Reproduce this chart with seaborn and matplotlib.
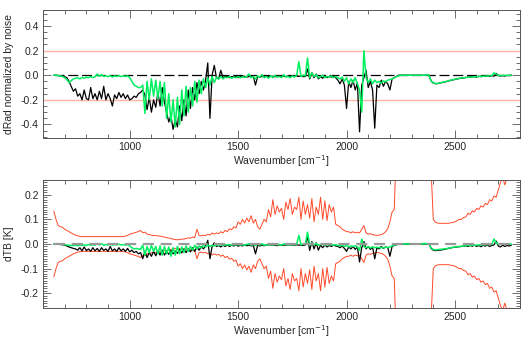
import numpy as np
import matplotlib
matplotlib.use("Agg")
import matplotlib.pyplot as plt
import seaborn as sns
from matplotlib.ticker import MultipleLocator, FormatStrFormatter

# wavenumber sampling grid [cm-1]
wn = np.arange(650, 2761, 10)

# top panel: dRad normalized by noise
top_black = [
    0, 0, -0.003, -0.005, -0.008, -0.012, -0.02, -0.05, -0.09, -0.13,
    -0.11, -0.17, -0.15, -0.2, -0.12, -0.19, -0.2, -0.1, -0.19, -0.15,
    -0.2, -0.13, -0.19, -0.09, -0.2, -0.15, -0.19, -0.25, -0.16, -0.19,
    -0.14, -0.18, -0.15, -0.19, -0.16, -0.2, -0.19, -0.17, -0.18, -0.15,
    -0.14, -0.12, -0.16, -0.28, -0.18, -0.3, -0.2, -0.26, -0.14, -0.25,
    -0.1, -0.22, -0.3, -0.38, -0.33, -0.44, -0.36, -0.42, -0.25, -0.37,
    -0.2, -0.33, -0.12, -0.27, -0.1, -0.2, -0.06, -0.15, -0.05, -0.12,
    -0.04, 0.1, -0.35, 0.0, 0.08, -0.02, -0.03, 0.04, -0.02, -0.01,
    -0.01, -0.02, -0.01, -0.015, -0.01, -0.02, -0.01, -0.012, -0.008, -0.015,
    -0.01, -0.012, -0.008, -0.08, -0.01, -0.015, -0.01, -0.012, -0.008, -0.01,
    -0.01, -0.008, -0.012, -0.01, -0.005, -0.01, -0.008, -0.012, -0.005, -0.01,
    -0.008, -0.01, -0.005, -0.01, -0.005, -0.012, -0.01, 0.05, -0.03, 0.02,
    -0.02, 0.01, -0.03, -0.01, -0.025, 0.0, -0.02, -0.01, -0.015, -0.01,
    -0.02, -0.04, -0.07, -0.03, -0.08, -0.27, -0.05, -0.1, -0.04, -0.12,
    -0.06, -0.46, -0.08, -0.02, 0.04, -0.1, -0.05, -0.12, -0.43, -0.08,
    -0.1, -0.04, -0.09, -0.05, -0.07, -0.12, -0.03, -0.02, -0.01, 0.0,
    0, 0, 0, 0, 0, 0, 0, 0, 0, 0,
    0, 0, 0, 0, -0.047, -0.064, -0.069, -0.068, -0.064, -0.06,
    -0.056, -0.052, -0.047, -0.042, -0.038, -0.034, -0.03, -0.027, -0.024, -0.022,
    -0.018, -0.016, -0.014, -0.013, -0.012, -0.015, -0.008, -0.012, -0.006, -0.01,
    -0.004, -0.01, -0.003, -0.008, 0.015, -0.002, -0.006, -0.003, -0.007, -0.002,
    -0.003, 0,
]
top_green = [
    0, 0, -0.002, -0.005, -0.01, -0.02, -0.035, -0.06, -0.045, -0.03,
    -0.025, -0.02, -0.03, -0.018, -0.025, -0.015, -0.02, -0.01, -0.02, -0.012,
    0.01, -0.01, 0.005, -0.01, -0.005, -0.012, -0.003, -0.015, -0.005, -0.01,
    -0.003, -0.012, -0.004, -0.01, -0.005, -0.02, -0.05, -0.08, -0.09, -0.1,
    -0.1, -0.08, -0.31, -0.05, -0.2, -0.03, -0.17, -0.04, -0.19, -0.05,
    -0.25, -0.06, -0.35, -0.15, -0.38, -0.2, -0.42, -0.18, -0.4, -0.12,
    -0.33, -0.09, -0.3, -0.1, -0.25, -0.05, -0.22, -0.04, -0.15, -0.03,
    -0.1, -0.02, -0.08, -0.01, -0.06, -0.015, -0.03, -0.01, -0.03, -0.015,
    -0.02, -0.01, -0.025, -0.015, -0.02, -0.01, -0.02, -0.012, -0.018, -0.01,
    0.01, -0.02, -0.01, -0.03, -0.005, -0.015, 0.005, -0.02, -0.01, -0.025,
    -0.005, -0.02, 0.0, -0.015, -0.01, -0.02, 0.005, -0.015, -0.01, -0.02,
    -0.005, -0.015, 0.0, 0.11, -0.01, 0.0, -0.005, 0.14, -0.02, 0.02,
    -0.01, 0.005, -0.02, -0.01, 0.0, -0.02, -0.01, -0.015, -0.005, -0.02,
    -0.01, -0.02, -0.03, -0.015, -0.05, -0.02, -0.07, -0.03, -0.06, -0.02,
    -0.07, -0.12, -0.3, 0.2, -0.02, -0.06, -0.03, -0.07, -0.04, -0.06,
    -0.05, -0.065, -0.045, -0.055, -0.04, -0.035, -0.03, -0.02, -0.012, -0.005,
    0, 0, 0, 0, 0, 0, 0, 0, 0, 0,
    0, 0, 0.002, 0, -0.045, -0.062, -0.067, -0.066, -0.062, -0.058,
    -0.054, -0.05, -0.045, -0.04, -0.036, -0.032, -0.028, -0.025, -0.022, -0.02,
    -0.019, -0.017, -0.015, -0.014, -0.012, -0.011, -0.01, -0.009, -0.008, -0.007,
    -0.006, -0.005, -0.003, 0.02, 0.008, -0.002, -0.002, -0.001, -0.002, -0.001,
    0, 0,
]

# bottom panel: dTB [K]
bot_black = [
    0, 0, -0.001, -0.002, -0.003, -0.005, -0.008, -0.012, -0.015, -0.018,
    -0.02, -0.025, -0.015, -0.028, -0.012, -0.027, -0.02, -0.03, -0.015, -0.028,
    -0.018, -0.03, -0.015, -0.026, -0.02, -0.03, -0.01, -0.028, -0.02, -0.03,
    -0.015, -0.028, -0.02, -0.03, -0.018, -0.032, -0.025, -0.035, -0.03, -0.04,
    -0.035, -0.06, -0.03, -0.055, -0.035, -0.05, -0.03, -0.048, -0.028, -0.045,
    -0.025, -0.045, -0.03, -0.042, -0.025, -0.04, -0.028, -0.038, -0.022, -0.036,
    -0.02, -0.035, -0.02, -0.032, -0.015, -0.03, -0.012, -0.025, -0.01, -0.02,
    -0.008, 0.015, -0.06, -0.01, 0.005, -0.01, -0.006, -0.012, -0.005, -0.01,
    -0.004, -0.01, -0.005, -0.008, -0.004, -0.009, -0.005, -0.008, -0.004, -0.007,
    -0.004, -0.008, -0.005, -0.04, -0.005, -0.008, -0.004, -0.007, -0.003, -0.006,
    -0.003, -0.006, -0.004, -0.007, -0.003, -0.006, -0.004, -0.006, -0.003, -0.005,
    -0.004, -0.006, -0.003, -0.005, -0.004, -0.006, -0.004, 0.03, -0.026, 0.01,
    -0.02, 0.005, -0.025, -0.005, -0.015, -0.004, -0.012, -0.006, -0.01, -0.005,
    -0.008, -0.01, -0.015, -0.008, -0.018, -0.03, -0.012, -0.02, -0.01, -0.022,
    -0.012, -0.073, -0.015, 0.01, -0.02, -0.01, -0.022, -0.012, -0.06, -0.015,
    -0.02, -0.01, -0.018, -0.012, -0.015, -0.05, -0.01, -0.006, -0.003, 0,
    0, 0, 0, 0, 0, 0, 0, 0, 0, 0,
    0, 0, 0, 0, -0.018, -0.025, -0.027, -0.026, -0.025, -0.024,
    -0.022, -0.02, -0.018, -0.016, -0.014, -0.013, -0.012, -0.011, -0.01, -0.009,
    -0.008, -0.01, -0.006, -0.009, -0.005, -0.01, -0.006, -0.011, -0.005, -0.009,
    -0.004, -0.01, -0.006, -0.004, 0.012, -0.008, -0.012, -0.005, -0.01, -0.006,
    -0.008, -0.005,
]
bot_green = [
    0, 0, -0.001, -0.001, -0.002, -0.003, -0.004, -0.005, -0.006, -0.006,
    -0.005, -0.007, -0.004, -0.006, -0.003, -0.006, -0.002, -0.005, -0.003, -0.005,
    0.002, -0.004, 0.001, -0.005, -0.002, -0.004, -0.001, -0.005, -0.002, -0.004,
    -0.001, -0.004, -0.002, -0.005, -0.002, -0.008, -0.015, -0.02, -0.018, -0.02,
    -0.022, -0.005, -0.045, -0.01, -0.035, -0.005, -0.03, -0.01, -0.04, -0.008,
    -0.045, -0.01, -0.04, -0.012, -0.05, -0.015, -0.045, -0.01, -0.04, -0.012,
    -0.035, -0.008, -0.03, -0.01, -0.025, -0.005, -0.02, -0.008, -0.015, -0.005,
    -0.012, -0.004, -0.01, -0.005, -0.008, -0.003, -0.006, -0.002, -0.005, -0.003,
    -0.004, -0.002, -0.005, -0.003, -0.004, -0.002, -0.004, -0.003, -0.005, -0.002,
    0.002, -0.005, -0.002, -0.006, -0.001, -0.004, 0.001, -0.005, -0.002, -0.006,
    -0.001, -0.005, 0.0, -0.004, -0.002, -0.005, 0.001, -0.004, -0.002, -0.005,
    -0.001, -0.004, 0.0, 0.035, -0.003, 0.0, -0.002, 0.048, -0.005, 0.005,
    -0.003, 0.002, -0.005, -0.002, 0.0, -0.005, -0.002, -0.004, -0.001, -0.005,
    -0.003, -0.006, -0.008, -0.005, -0.01, -0.006, -0.012, -0.008, -0.01, -0.007,
    -0.012, -0.025, 0.02, -0.01, -0.015, -0.01, -0.016, -0.012, -0.015, -0.013,
    -0.015, -0.014, -0.016, -0.013, -0.014, -0.012, -0.008, -0.004, -0.002, 0,
    0, 0.001, 0, 0.001, 0, 0.001, 0, 0.001, 0, 0,
    0.001, 0.002, 0.001, 0.001, -0.016, -0.022, -0.024, -0.023, -0.022, -0.021,
    -0.02, -0.019, -0.017, -0.015, -0.014, -0.012, -0.011, -0.01, -0.009, -0.008,
    -0.007, -0.006, -0.006, -0.005, -0.005, -0.004, -0.004, -0.003, -0.003, -0.003,
    -0.002, -0.002, -0.001, 0.02, 0.005, -0.001, -0.001, -0.001, 0, 0,
    0, 0,
]
# instrument noise envelope (plotted as +/-)
noise_tb = [
    0.133, 0.1, 0.075, 0.07, 0.068, 0.06, 0.055, 0.05, 0.045, 0.04,
    0.036, 0.033, 0.031, 0.03, 0.03, 0.03, 0.03, 0.03, 0.03, 0.03,
    0.03, 0.03, 0.03, 0.03, 0.03, 0.03, 0.03, 0.03, 0.03, 0.03,
    0.03, 0.03, 0.03, 0.032, 0.035, 0.04, 0.042, 0.045, 0.048, 0.05,
    0.055, 0.046, 0.048, 0.04, 0.038, 0.036, 0.035, 0.034, 0.033, 0.032,
    0.03, 0.028, 0.026, 0.024, 0.022, 0.02, 0.018, 0.017, 0.018, 0.02,
    0.02, 0.022, 0.025, 0.024, 0.028, 0.026, 0.06, 0.035, 0.033, 0.036,
    0.034, 0.04, 0.036, 0.045, 0.04, 0.045, 0.042, 0.05, 0.045, 0.055,
    0.05, 0.062, 0.058, 0.07, 0.065, 0.09, 0.08, 0.1, 0.085, 0.105,
    0.09, 0.115, 0.085, 0.1, 0.07, 0.06, 0.08, 0.1, 0.09, 0.14,
    0.11, 0.18, 0.12, 0.155, 0.13, 0.145, 0.1, 0.17, 0.14, 0.185,
    0.12, 0.15, 0.14, 0.19, 0.1, 0.175, 0.12, 0.16, 0.105, 0.185,
    0.09, 0.15, 0.12, 0.19, 0.1, 0.175, 0.095, 0.16, 0.13, 0.15,
    0.08, 0.075, 0.07, 0.06, 0.055, 0.05, 0.05, 0.045, 0.05, 0.045,
    0.048, 0.045, 0.06, 0.075, 0.045, 0.04, 0.042, 0.038, 0.036, 0.035,
    0.036, 0.038, 0.042, 0.05, 0.062, 0.09, 0.13, 0.14, 0.4, 3.0,
    3.0, 3.0, 3.0, 3.0, 3.0, 3.0, 3.0, 3.0, 3.0, 3.0,
    3.0, 3.0, 3.0, 3.0, 0.3, 0.1, 0.088, 0.085, 0.084, 0.084,
    0.084, 0.084, 0.084, 0.086, 0.088, 0.09, 0.095, 0.1, 0.1, 0.108,
    0.11, 0.125, 0.12, 0.135, 0.13, 0.145, 0.14, 0.155, 0.15, 0.165,
    0.16, 0.18, 0.175, 0.195, 0.19, 0.22, 0.25, 0.27, 0.24, 0.27,
    0.26, 0.27,
]

for arr in (top_black, top_green, bot_black, bot_green, noise_tb):
    assert len(arr) == len(wn), len(arr)

top_black = np.array(top_black)
top_green = np.array(top_green)
bot_black = np.array(bot_black)
bot_green = np.array(bot_green)
noise_tb = np.array(noise_tb)

sns.set_style("ticks")
plt.rcParams["font.family"] = ["Liberation Sans", "DejaVu Sans"]
plt.rcParams["axes.unicode_minus"] = False
plt.rcParams["font.size"] = 7.5

GREEN = "#00f060"
SALMON = "#ffb4a4"
RED = "#ff4a2a"

fig = plt.figure(figsize=(5.27, 3.43), dpi=100)
ax1 = fig.add_axes([43 / 527, 1 - 138 / 343, 477 / 527, 128 / 343])
ax2 = fig.add_axes([43 / 527, 1 - 308 / 343, 477 / 527, 128 / 343])

# top panel
ax1.axhline(0.2, color=SALMON, lw=1.0, zorder=1)
ax1.axhline(-0.2, color=SALMON, lw=1.0, zorder=1)
ax1.hlines(0, wn.min(), wn.max(), colors="black", linestyles=(0, (8, 3)), lw=0.9, zorder=2)
sns.lineplot(x=wn, y=top_black, ax=ax1, color="black", lw=0.9, zorder=3,
             estimator=None, sort=False)
sns.lineplot(x=wn, y=top_green, ax=ax1, color=GREEN, lw=1.1, zorder=4,
             estimator=None, sort=False)
ax1.set_ylim(-0.51, 0.53)
ax1.set_ylabel("dRad normalized by noise", labelpad=5)
ax1.yaxis.set_major_locator(MultipleLocator(0.2))
ax1.yaxis.set_minor_locator(MultipleLocator(0.05))
ax1.yaxis.set_major_formatter(FormatStrFormatter("%.1f"))

# bottom panel
sns.lineplot(x=wn, y=noise_tb, ax=ax2, color=RED, lw=0.7, zorder=2,
             estimator=None, sort=False)
sns.lineplot(x=wn, y=-noise_tb, ax=ax2, color=RED, lw=0.7, zorder=2,
             estimator=None, sort=False)
sns.lineplot(x=wn, y=bot_black, ax=ax2, color="black", lw=0.9, zorder=3,
             estimator=None, sort=False)
sns.lineplot(x=wn, y=bot_green, ax=ax2, color=GREEN, lw=1.1, zorder=4,
             estimator=None, sort=False)
ax2.hlines(0, wn.min(), wn.max(), colors="#999999", linestyles=(0, (5, 3)), lw=1.6, zorder=5)
ax2.set_ylim(-0.26, 0.26)
ax2.set_ylabel("dTB [K]", labelpad=5)
ax2.yaxis.set_major_locator(MultipleLocator(0.1))
ax2.yaxis.set_minor_locator(MultipleLocator(0.01))
ax2.yaxis.set_major_formatter(FormatStrFormatter("%.1f"))

for ax in (ax1, ax2):
    ax.set_xlim(600, 2800)
    ax.xaxis.set_major_locator(MultipleLocator(500))
    ax.xaxis.set_minor_locator(MultipleLocator(100))
    ax.set_xlabel("Wavenumber [cm$^{-1}$]", labelpad=1)
    ax.tick_params(which="both", direction="in", top=True, right=True,
                   color="#555555", width=0.6, labelsize=7.5, pad=3)
    ax.tick_params(which="major", length=6)
    ax.tick_params(which="minor", length=3)
    for s in ax.spines.values():
        s.set_color("#555555")
        s.set_linewidth(0.7)

fig.savefig("out.png", dpi=100)
